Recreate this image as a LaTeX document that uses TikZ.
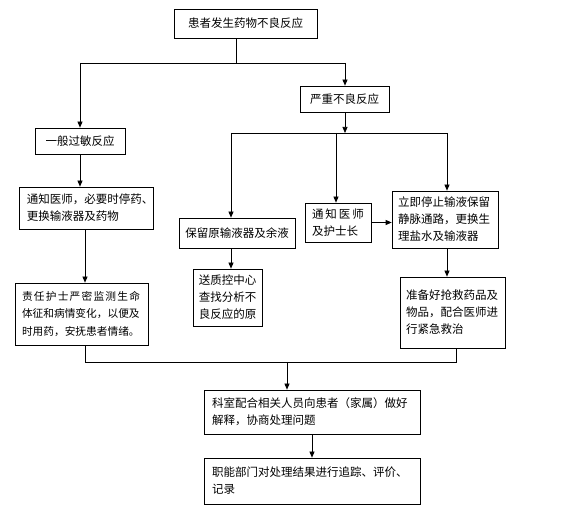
\documentclass[tikz,border=0pt]{standalone}
\usepackage{fontspec}
\newfontfamily\cjk{Noto Sans CJK SC}
\usetikzlibrary{arrows.meta}
\begin{document}
\begin{tikzpicture}[x=1pt,y=-1pt,
 box/.style={draw, line width=0.7pt, inner xsep=0pt, inner ysep=0pt, font=\cjk\fontsize{11.5}{17}\selectfont},
 ln/.style={line width=0.7pt},
 arr/.style={ln,-{Triangle[length=6pt,width=5pt]}}]
\useasboundingbox (0,0) rectangle (563,518);
% boxes
\node[box, text width=143pt, minimum height=29pt, align=center] (top) at (245.5,23.5) {患者发生药物不良反应};
\node[box, text width=89pt, minimum height=26pt, align=center] (sev) at (344.5,99) {严重不良反应};
\node[box, text width=90pt, minimum height=26pt, align=center] (gen) at (80,141) {一般过敏反应};
\node[box, inner xsep=8pt, text width=118pt, minimum height=42pt, align=left] (n1) at (86,208) {通知医师，必要时停药、\\更换输液器及药物};
\node[box, inner xsep=7pt, text width=119pt, minimum height=62pt, align=left, font=\cjk\fontsize{10.7}{17.5}\selectfont] (resp) at (81.5,314) {\makebox[118pt][s]{责\hfill 任\hfill 护\hfill 士\hfill 严\hfill 密\hfill 监\hfill 测\hfill 生\hfill 命}\\体征和病情变化，以便及\\时用药，安抚患者情绪。};
\node[box, text width=116pt, minimum height=30pt, align=center] (keep) at (237,233) {保留原输液器及余液};
\node[box, text width=69pt, minimum height=57pt, align=center] (qc) at (227.5,297.5) {送质控中心\\查找分析不\\良反应的原};
\node[box, inner xsep=7pt, text width=52pt, minimum height=39pt, align=left] (nt) at (338,222.5) {\makebox[52pt][s]{通\hfill 知\hfill 医\hfill 师}\\及护士长};
\node[box, inner xsep=6pt, text width=94pt, minimum height=57pt, align=left] (stop) at (445,219.5) {立即停止输液保留\\静脉通路，更换生\\理盐水及输液器};
\node[box, inner xsep=6pt, text width=93pt, minimum height=71pt, align=left] (prep) at (452.5,312.5) {准备好抢救药品及\\物品，配合医师进\\行紧急救治};
\node[box, inner xsep=8pt, text width=200pt, minimum height=44pt, align=left] (dept) at (312,412) {科室配合相关人员向患者（家属）做好\\解释，协商处理问题};
\node[box, inner xsep=8pt, text width=200pt, minimum height=46pt, align=left] (fn) at (312,481) {职能部门对处理结果进行追踪、评价、\\记录};
% junction coordinates
\coordinate (j1) at (236,63);
\coordinate (jl) at (80,63);
\coordinate (jr) at (345,63);
\coordinate (k1) at (231,133);
\coordinate (k2) at (345,133);
\coordinate (k3) at (447,133);
\coordinate (k4) at (336,133);
\coordinate (m1) at (85,362);
\coordinate (m2) at (456,362);
\coordinate (m) at (287,362);
% connectors
\draw[ln] (top.south -| j1) -- (j1);
\draw[ln] (jl) -- (jr);
\draw[arr] (jl) -- (gen.north -| jl);
\draw[arr] (jr) -- (sev.north -| jr);
\draw[arr] (sev.south -| k2) -- (k2);
\draw[ln] (k1) -- (k3);
\draw[arr] (k1) -- (keep.north -| k1);
\draw[arr] (k4) -- (nt.north -| k4);
\draw[arr] (k3) -- (stop.north -| k3);
\draw[arr] (nt.east) -- (stop.west |- nt.east);
\draw[arr] (gen.south) -- (n1.north -| gen.south);
\draw[arr] (n1.south -| m1) -- (resp.north -| m1);
\draw[arr] (keep.south -| k1) -- (qc.north -| k1);
\draw[arr] (stop.south -| k3) -- (prep.north -| k3);
\draw[ln] (resp.south -| m1) -- (m1) -- (m2) -- (prep.south -| m2);
\draw[arr] (m) -- (dept.north -| m);
\draw[arr] (dept.south) -- (fn.north);
\end{tikzpicture}
\end{document}
